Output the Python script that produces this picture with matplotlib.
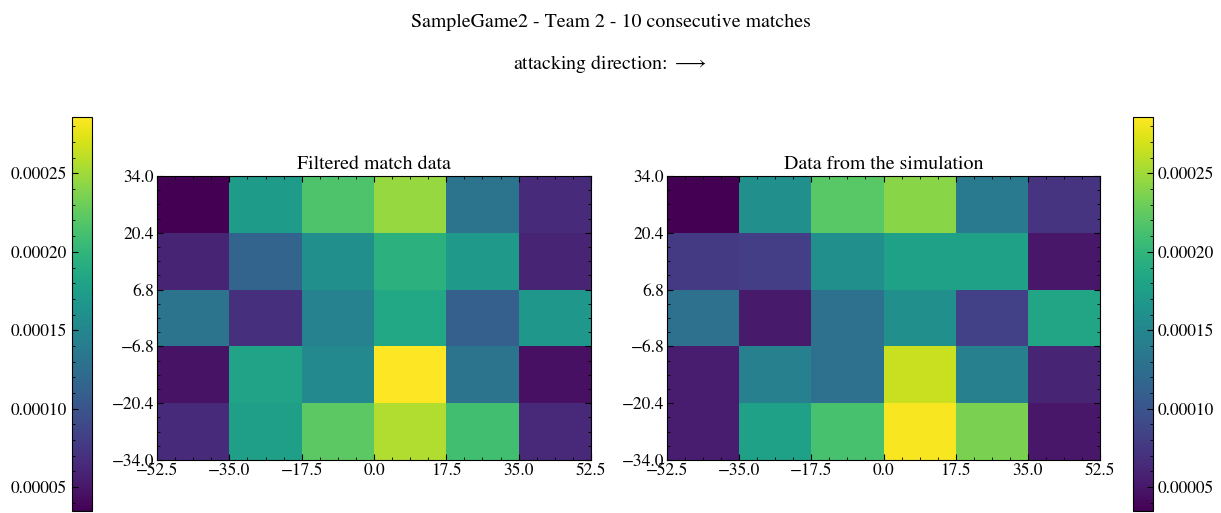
import numpy as np
import matplotlib
matplotlib.use('Agg')
import matplotlib.pyplot as plt
from matplotlib.ticker import AutoMinorLocator

plt.rcParams['font.family'] = ['STIXGeneral', 'DejaVu Serif']
plt.rcParams['mathtext.fontset'] = 'stix'
plt.rcParams['font.size'] = 12.5
plt.rcParams['xtick.direction'] = 'in'
plt.rcParams['ytick.direction'] = 'in'

# pitch zones (105 x 68 pitch, 6 x 5 grid)
x_edges = [-52.5, -35.0, -17.5, 0.0, 17.5, 35.0, 52.5]
y_edges = [34.0, 20.4, 6.8, -6.8, -20.4, -34.0]  # top row first

# action density per zone, rows from top (y=34) to bottom (y=-34)
match_density = np.array([
    [0.0000347, 0.0001728, 0.0002154, 0.0002460, 0.0001301, 0.0000648],
    [0.0000598, 0.0001150, 0.0001602, 0.0001954, 0.0001703, 0.0000598],
    [0.0001301, 0.0000698, 0.0001452, 0.0001853, 0.0001100, 0.0001677],
    [0.0000473, 0.0001803, 0.0001527, 0.0002860, 0.0001301, 0.0000447],
    [0.0000648, 0.0001753, 0.0002229, 0.0002560, 0.0002104, 0.0000623],
])
sim_density = np.array([
    [0.0000347, 0.0001602, 0.0002204, 0.0002410, 0.0001376, 0.0000723],
    [0.0000774, 0.0000799, 0.0001602, 0.0001778, 0.0001778, 0.0000498],
    [0.0001276, 0.0000523, 0.0001276, 0.0001602, 0.0000824, 0.0001828],
    [0.0000548, 0.0001427, 0.0001276, 0.0002650, 0.0001427, 0.0000598],
    [0.0000548, 0.0001778, 0.0002129, 0.0002840, 0.0002355, 0.0000498],
])

team = 'SampleGame2 - Team 2 - 10 consecutive matches'
titles = ['Filtered match data', 'Data from the simulation']

vmin = min(match_density.min(), sim_density.min())
vmax = max(match_density.max(), sim_density.max())

fig = plt.figure(figsize=(12.21, 5.13), dpi=100)
ax_l = fig.add_axes([0.1286, 0.1033, 0.3554, 0.5536])
ax_r = fig.add_axes([0.5463, 0.1033, 0.3546, 0.5536])
cax_l = fig.add_axes([0.0590, 0.0039, 0.0164, 0.768])
cax_r = fig.add_axes([0.9280, 0.0039, 0.0164, 0.768])

for ax, data, title in zip([ax_l, ax_r], [match_density, sim_density], titles):
    mesh = ax.pcolormesh(x_edges, y_edges, data, cmap='viridis',
                         vmin=vmin, vmax=vmax)
    ax.set_xlim(-52.5, 52.5)
    ax.set_ylim(-34.0, 34.0)
    ax.set_xticks(x_edges)
    ax.set_yticks(y_edges[::-1])
    ax.set_xticklabels(['{:.1f}'.format(v).replace('-', '\u2212') for v in x_edges])
    ax.set_yticklabels(['{:.1f}'.format(v).replace('-', '\u2212') for v in y_edges[::-1]])
    ax.xaxis.set_minor_locator(AutoMinorLocator(4))
    ax.yaxis.set_minor_locator(AutoMinorLocator(4))
    ax.tick_params(which='both', top=True, right=True, pad=2)
    ax.tick_params(which='major', length=4)
    ax.tick_params(which='minor', length=2)
    ax.set_title(title, fontsize=14.3, pad=5)

for cax, side in [(cax_l, 'left'), (cax_r, 'right')]:
    cb = fig.colorbar(mesh, cax=cax)
    cb.set_ticks([0.00005, 0.00010, 0.00015, 0.00020, 0.00025])
    cb.set_ticklabels(['0.00005', '0.00010', '0.00015', '0.00020', '0.00025'])
    cb.ax.yaxis.set_ticks_position(side)
    cb.ax.yaxis.set_label_position(side)
    cb.ax.yaxis.set_minor_locator(AutoMinorLocator(5))
    cb.ax.tick_params(which='major', length=4)
    cb.ax.tick_params(which='minor', length=2)
    cb.outline.set_linewidth(0.8)

fig.text(0.5, 0.957, team, ha='center', va='center', fontsize=14.3)
fig.text(0.5, 0.875, r'attacking direction: $\longrightarrow$',
         ha='center', va='center', fontsize=14.3)

fig.savefig('out.png', dpi=100)
